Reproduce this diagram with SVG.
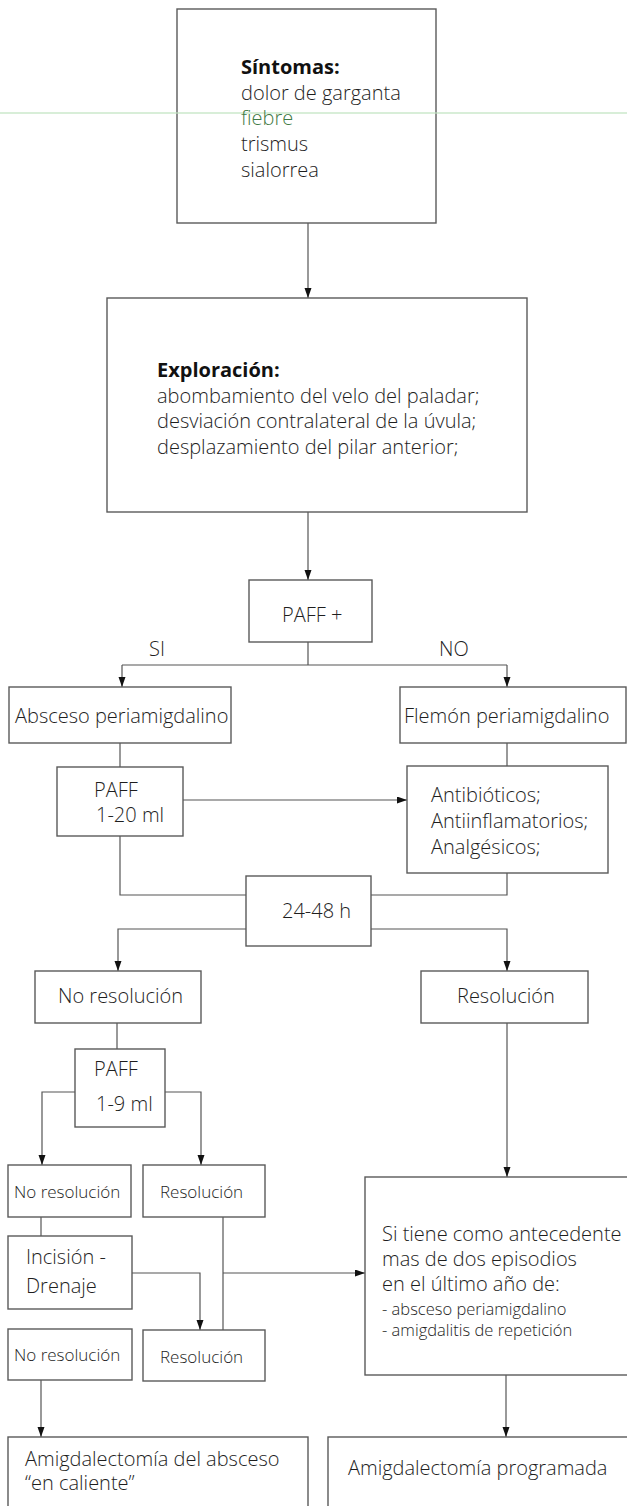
<svg xmlns="http://www.w3.org/2000/svg" width="627" height="1506" viewBox="0 0 627 1506">
<style>
.box{fill:#fff;stroke:#5a5a5a;stroke-width:1.4}
.t{font-family:"Open Sans","Noto Sans","Liberation Sans",sans-serif;font-size:20px;font-weight:350;fill:#1e1e1e}
.s{font-size:17px}
.xs{font-size:16.5px}
.b{font-weight:bold;fill:#111}
.c{fill:none;stroke:#555;stroke-width:1.2}
</style>
<defs>
<marker id="ah" markerUnits="userSpaceOnUse" markerWidth="10" markerHeight="8" refX="10" refY="3.5" orient="auto">
<path d="M0,0 L10,3.5 L0,7 z" fill="#111"/>
</marker>
</defs>
<rect width="627" height="1506" fill="#fff"/>
<g id="connectors">
<path class="c" d="M308,223 V298" marker-end="url(#ah)"/>
<path class="c" d="M308,512 V580" marker-end="url(#ah)"/>
<path class="c" d="M308,642 V665 M122,665 H507"/>
<path class="c" d="M122,665 V687" marker-end="url(#ah)"/>
<path class="c" d="M507,665 V687" marker-end="url(#ah)"/>
<path class="c" d="M120,743 V767"/>
<path class="c" d="M507,743 V766"/>
<path class="c" d="M183,800 H407" marker-end="url(#ah)"/>
<path class="c" d="M120,836 V895 H246"/>
<path class="c" d="M507,873 V895 H371"/>
<path class="c" d="M246,929 H118 V971" marker-end="url(#ah)"/>
<path class="c" d="M371,929 H507 V971" marker-end="url(#ah)"/>
<path class="c" d="M117,1023 V1049"/>
<path class="c" d="M75,1092 H42 V1165" marker-end="url(#ah)"/>
<path class="c" d="M165,1092 H201 V1165" marker-end="url(#ah)"/>
<path class="c" d="M507,1023 V1177" marker-end="url(#ah)"/>
<path class="c" d="M41,1217 V1236"/>
<path class="c" d="M132,1273 H200 V1330" marker-end="url(#ah)"/>
<path class="c" d="M223,1217 V1330"/>
<path class="c" d="M223,1273 H365" marker-end="url(#ah)"/>
<path class="c" d="M41,1380 V1437" marker-end="url(#ah)"/>
<path class="c" d="M506,1375 V1437" marker-end="url(#ah)"/>
</g>
<g id="sintomas">
<rect class="box" x="177" y="9" width="259" height="214"/>
<line x1="0" y1="113" x2="627" y2="113" stroke="#bfe3bf" stroke-width="1.3" opacity="0.8"/>
<text class="t b" x="241" y="74">Síntomas:</text>
<text class="t" x="241" y="100">dolor de garganta</text>
<text class="t" x="241" y="125" style="fill:#3f7a45">fiebre</text>
<text class="t" x="241" y="151">trismus</text>
<text class="t" x="241" y="177">sialorrea</text>
</g>
<g id="exploracion">
<rect class="box" x="107" y="298" width="420" height="214"/>
<text class="t b" x="157" y="377">Exploración:</text>
<text class="t" x="157" y="403">abombamiento del velo del paladar;</text>
<text class="t" x="157" y="428">desviación contralateral de la úvula;</text>
<text class="t" x="157" y="454">desplazamiento del pilar anterior;</text>
</g>
<g id="paff">
<rect class="box" x="249" y="580" width="123" height="62"/>
<text class="t" x="282" y="622">PAFF +</text>
</g>
<g id="label-si"><text class="t" x="149" y="656">SI</text></g>
<g id="label-no"><text class="t" x="439" y="656">NO</text></g>
<g id="absceso">
<rect class="box" x="9" y="687" width="222" height="56"/>
<text class="t" x="15" y="723">Absceso periamigdalino</text>
</g>
<g id="flemon">
<rect class="box" x="400" y="687" width="226" height="56"/>
<text class="t" x="404" y="723">Flemón periamigdalino</text>
</g>
<g id="paff20">
<rect class="box" x="57" y="767" width="126" height="69"/>
<text class="t" x="94" y="797">PAFF</text>
<text class="t" x="96" y="822">1-20 ml</text>
</g>
<g id="antibioticos">
<rect class="box" x="407" y="766" width="201" height="107"/>
<text class="t" x="431" y="802">Antibióticos;</text>
<text class="t" x="431" y="828">Antiinflamatorios;</text>
<text class="t" x="431" y="854">Analgésicos;</text>
</g>
<g id="h2448">
<rect class="box" x="246" y="876" width="125" height="70"/>
<text class="t" x="282" y="918">24-48 h</text>
</g>
<g id="noresol1">
<rect class="box" x="35" y="971" width="166" height="52"/>
<text class="t" x="58" y="1003">No resolución</text>
</g>
<g id="resol1">
<rect class="box" x="421" y="971" width="167" height="52"/>
<text class="t" x="457" y="1003">Resolución</text>
</g>
<g id="paff9">
<rect class="box" x="75" y="1049" width="90" height="78"/>
<text class="t" x="94" y="1076">PAFF</text>
<text class="t" x="96" y="1111">1-9 ml</text>
</g>
<g id="noresol2">
<rect class="box" x="8" y="1165" width="123" height="52"/>
<text class="t s" x="14" y="1198">No resolución</text>
</g>
<g id="resol2">
<rect class="box" x="143" y="1165" width="122" height="52"/>
<text class="t s" x="160" y="1198">Resolución</text>
</g>
<g id="incision">
<rect class="box" x="8" y="1236" width="124" height="73"/>
<text class="t" x="26" y="1264">Incisión -</text>
<text class="t" x="26" y="1293">Drenaje</text>
</g>
<g id="noresol3">
<rect class="box" x="8" y="1329" width="124" height="51"/>
<text class="t s" x="14" y="1361">No resolución</text>
</g>
<g id="resol3">
<rect class="box" x="143" y="1330" width="122" height="51"/>
<text class="t s" x="160" y="1363">Resolución</text>
</g>
<g id="antecedente">
<rect class="box" x="365" y="1177" width="270" height="198"/>
<text class="t" x="382" y="1241">Si tiene como antecedente</text>
<text class="t" x="382" y="1266">mas de dos episodios</text>
<text class="t" x="382" y="1291">en el último año de:</text>
<text class="t xs" x="382" y="1315">- absceso periamigdalino</text>
<text class="t xs" x="382" y="1336">- amigdalitis de repetición</text>
</g>
<g id="amig-caliente">
<rect class="box" x="8" y="1437" width="300" height="80"/>
<text class="t" x="25" y="1466">Amigdalectomía del absceso</text>
<text class="t" x="25" y="1490">“en caliente”</text>
</g>
<g id="amig-programada">
<rect class="box" x="328" y="1437" width="310" height="80"/>
<text class="t" x="348" y="1475">Amigdalectomía programada</text>
</g>
</svg>
